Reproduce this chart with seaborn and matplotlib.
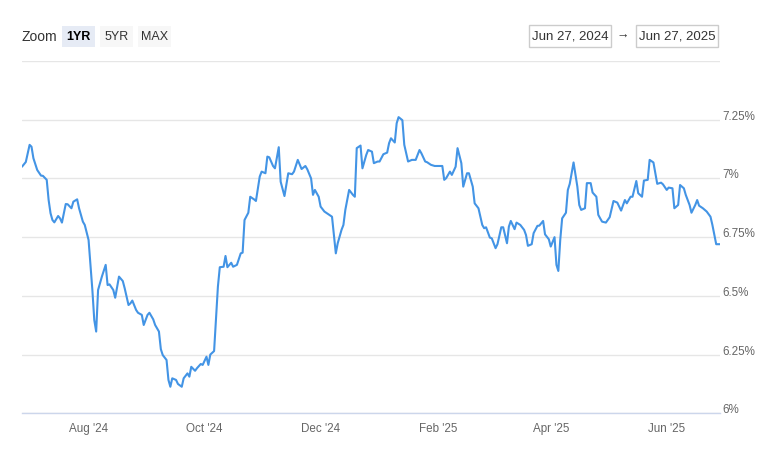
import pandas as pd
import matplotlib.pyplot as plt
import matplotlib.dates as mdates
import seaborn as sns
from matplotlib.patches import Rectangle

# %% data (daily rate, %)
dates = [
    "2024-06-27", "2024-06-29", "2024-07-01", "2024-07-02", "2024-07-03", "2024-07-05",
    "2024-07-07", "2024-07-08", "2024-07-10", "2024-07-11", "2024-07-12", "2024-07-13",
    "2024-07-14", "2024-07-16", "2024-07-17", "2024-07-18", "2024-07-20", "2024-07-21",
    "2024-07-23", "2024-07-24", "2024-07-26", "2024-07-27", "2024-07-29", "2024-07-30",
    "2024-08-01", "2024-08-02", "2024-08-03", "2024-08-04", "2024-08-05", "2024-08-06",
    "2024-08-08", "2024-08-10", "2024-08-11", "2024-08-12", "2024-08-14", "2024-08-15",
    "2024-08-17", "2024-08-19", "2024-08-20", "2024-08-21", "2024-08-22", "2024-08-23",
    "2024-08-24", "2024-08-26", "2024-08-27", "2024-08-29", "2024-08-30", "2024-09-01",
    "2024-09-02", "2024-09-04", "2024-09-05", "2024-09-07", "2024-09-08", "2024-09-09",
    "2024-09-11", "2024-09-12", "2024-09-13", "2024-09-14", "2024-09-16", "2024-09-17",
    "2024-09-19", "2024-09-20", "2024-09-22", "2024-09-23", "2024-09-24", "2024-09-26",
    "2024-09-27", "2024-09-29", "2024-09-30", "2024-10-02", "2024-10-03", "2024-10-04",
    "2024-10-06", "2024-10-07", "2024-10-08", "2024-10-09", "2024-10-11", "2024-10-12",
    "2024-10-13", "2024-10-15", "2024-10-16", "2024-10-18", "2024-10-20", "2024-10-21",
    "2024-10-22", "2024-10-24", "2024-10-25", "2024-10-27", "2024-10-28", "2024-10-30",
    "2024-10-31", "2024-11-02", "2024-11-03", "2024-11-04", "2024-11-06", "2024-11-07",
    "2024-11-09", "2024-11-10", "2024-11-12", "2024-11-14", "2024-11-16", "2024-11-17",
    "2024-11-19", "2024-11-21", "2024-11-23", "2024-11-24", "2024-11-26", "2024-11-27",
    "2024-11-28", "2024-11-30", "2024-12-01", "2024-12-03", "2024-12-05", "2024-12-07",
    "2024-12-09", "2024-12-10", "2024-12-12", "2024-12-13", "2024-12-14", "2024-12-16",
    "2024-12-18", "2024-12-19", "2024-12-20", "2024-12-22", "2024-12-23", "2024-12-25",
    "2024-12-26", "2024-12-28", "2024-12-29", "2024-12-31", "2025-01-01", "2025-01-03",
    "2025-01-05", "2025-01-06", "2025-01-07", "2025-01-09", "2025-01-10", "2025-01-11",
    "2025-01-13", "2025-01-14", "2025-01-16", "2025-01-18", "2025-01-20", "2025-01-22",
    "2025-01-23", "2025-01-25", "2025-01-26", "2025-01-28", "2025-01-30", "2025-02-03",
    "2025-02-04", "2025-02-05", "2025-02-07", "2025-02-08", "2025-02-10", "2025-02-11",
    "2025-02-13", "2025-02-14", "2025-02-16", "2025-02-17", "2025-02-19", "2025-02-20",
    "2025-02-22", "2025-02-24", "2025-02-25", "2025-02-26", "2025-02-28", "2025-03-01",
    "2025-03-03", "2025-03-04", "2025-03-06", "2025-03-07", "2025-03-09", "2025-03-10",
    "2025-03-11", "2025-03-13", "2025-03-14", "2025-03-16", "2025-03-18", "2025-03-19",
    "2025-03-20", "2025-03-22", "2025-03-23", "2025-03-25", "2025-03-26", "2025-03-28",
    "2025-03-29", "2025-03-31", "2025-04-01", "2025-04-03", "2025-04-04", "2025-04-05",
    "2025-04-06", "2025-04-07", "2025-04-09", "2025-04-10", "2025-04-11", "2025-04-13",
    "2025-04-15", "2025-04-16", "2025-04-17", "2025-04-19", "2025-04-20", "2025-04-22",
    "2025-04-23", "2025-04-25", "2025-04-26", "2025-04-27", "2025-04-28", "2025-04-30",
    "2025-05-02", "2025-05-04", "2025-05-06", "2025-05-08", "2025-05-10", "2025-05-11",
    "2025-05-13", "2025-05-14", "2025-05-16", "2025-05-17", "2025-05-19", "2025-05-20",
    "2025-05-22", "2025-05-23", "2025-05-25", "2025-05-26", "2025-05-27", "2025-05-29",
    "2025-05-30", "2025-06-01", "2025-06-02", "2025-06-04", "2025-06-05", "2025-06-07",
    "2025-06-08", "2025-06-10", "2025-06-11", "2025-06-13", "2025-06-14", "2025-06-16",
    "2025-06-17", "2025-06-18", "2025-06-20", "2025-06-22", "2025-06-24", "2025-06-25",
    "2025-06-27", "2025-06-29",
]
rates = [
    7.050, 7.070, 7.143, 7.135, 7.086, 7.036,
    7.012, 7.011, 6.994, 6.908, 6.852, 6.823,
    6.813, 6.840, 6.830, 6.812, 6.891, 6.890,
    6.873, 6.901, 6.911, 6.873, 6.816, 6.802,
    6.738, 6.632, 6.525, 6.397, 6.348, 6.525,
    6.582, 6.632, 6.546, 6.549, 6.525, 6.492,
    6.582, 6.563, 6.532, 6.497, 6.461, 6.468,
    6.480, 6.440, 6.428, 6.419, 6.376, 6.419,
    6.428, 6.400, 6.376, 6.348, 6.273, 6.248,
    6.227, 6.142, 6.113, 6.149, 6.142, 6.125,
    6.113, 6.149, 6.170, 6.156, 6.198, 6.181,
    6.192, 6.210, 6.206, 6.241, 6.206, 6.250,
    6.265, 6.400, 6.539, 6.622, 6.624, 6.670,
    6.622, 6.641, 6.624, 6.632, 6.681, 6.684,
    6.823, 6.854, 6.922, 6.911, 6.904, 7.008,
    7.029, 7.022, 7.093, 7.090, 7.053, 7.043,
    7.133, 6.986, 6.925, 7.022, 7.018, 7.029,
    7.079, 7.040, 7.053, 7.039, 7.000, 6.930,
    6.951, 6.922, 6.880, 6.859, 6.848, 6.837,
    6.681, 6.724, 6.781, 6.802, 6.866, 6.951,
    6.930, 6.922, 7.129, 7.140, 7.043, 7.100,
    7.121, 7.114, 7.065, 7.072, 7.072, 7.103,
    7.110, 7.150, 7.171, 7.153, 7.235, 7.261,
    7.248, 7.143, 7.072, 7.079, 7.079, 7.121,
    7.107, 7.072, 7.069, 7.058, 7.053, 7.053,
    6.994, 7.001, 7.029, 7.015, 7.050, 7.129,
    7.065, 6.965, 7.022, 7.022, 6.965, 6.894,
    6.873, 6.802, 6.788, 6.792, 6.748, 6.745,
    6.703, 6.720, 6.792, 6.792, 6.724, 6.795,
    6.819, 6.784, 6.812, 6.802, 6.781, 6.759,
    6.713, 6.720, 6.767, 6.798, 6.799, 6.819,
    6.762, 6.741, 6.710, 6.750, 6.632, 6.606,
    6.738, 6.830, 6.854, 6.951, 6.977, 7.068,
    6.965, 6.887, 6.866, 6.873, 6.980, 6.980,
    6.940, 6.922, 6.845, 6.830, 6.816, 6.812,
    6.835, 6.904, 6.897, 6.863, 6.908, 6.894,
    6.922, 6.922, 6.989, 6.937, 6.922, 6.991,
    6.994, 7.079, 7.068, 7.022, 6.977, 6.982,
    6.975, 6.951, 6.961, 6.958, 6.873, 6.887,
    6.972, 6.958, 6.930, 6.887, 6.854, 6.887,
    6.908, 6.884, 6.873, 6.859, 6.837, 6.802,
    6.720, 6.720,
]

y_ticks = [6, 6.25, 6.5, 6.75, 7, 7.25, 7.5]
y_labels = ["6%", "6.25%", "6.5%", "6.75%", "7%", "7.25%", ""]
zoom_buttons = ["1YR", "5YR", "MAX"]
range_from = "Jun 27, 2024"
range_to = "Jun 27, 2025"

df = pd.DataFrame({"date": pd.to_datetime(dates), "rate": rates})

# %% plot
sns.set_style("white")
plt.rcParams['font.family'] = ['Liberation Sans', 'DejaVu Sans']

W, H = 769, 449
fig = plt.figure(figsize=(W / 100, H / 100), dpi=100)
ax = fig.add_axes([22 / W, 1 - 413.3 / H, 698 / W, (413.3 - 61) / H])

sns.lineplot(data=df, x="date", y="rate", color="#4394e5", linewidth=1.5, ax=ax)

ax.set_xlim(df["date"].min(), df["date"].max())
ax.set_ylim(6, 7.5)
ax.set_xlabel("")
ax.set_ylabel("")

ax.set_yticks(y_ticks)
ax.set_yticklabels(y_labels)
ax.yaxis.tick_right()
ax.tick_params(axis="y", length=0, pad=2, labelsize=8.4, labelcolor="#666666")
for lab in ax.get_yticklabels():
    lab.set_verticalalignment("baseline")

ax.xaxis.set_major_locator(mdates.MonthLocator(bymonth=[2, 4, 6, 8, 10, 12]))
ax.xaxis.set_major_formatter(mdates.DateFormatter("%b '%y"))
ax.tick_params(axis="x", length=6, width=1, color="#ccd6eb", pad=1,
               labelsize=8.4, labelcolor="#666666")

ax.grid(axis="y", color="#e6e6e6", linewidth=1)
ax.set_axisbelow(True)
for side in ["top", "left", "right"]:
    ax.spines[side].set_visible(False)
ax.spines["bottom"].set_color("#ccd6eb")
ax.spines["bottom"].set_linewidth(1)

# %% range selector on top (pixel coords)
top = fig.add_axes([0, 0, 1, 1], zorder=-1)
top.set_xlim(0, W)
top.set_ylim(H, 0)
top.axis("off")

top.text(22, 37, "Zoom", fontsize=10, color="#333333", va="center", ha="left")
for i, name in enumerate(zoom_buttons):
    x0 = 62 + i * 38
    bg = "#e6ebf5" if i == 0 else "#f7f7f7"
    top.add_patch(Rectangle((x0, 26), 33, 21, facecolor=bg, edgecolor="none"))
    top.text(x0 + 16.5, 37, name, fontsize=9, color="#000000" if i == 0 else "#333333",
             fontweight="bold" if i == 0 else "normal", ha="center", va="center")

for x0, label in [(529, range_from), (636, range_to)]:
    top.add_patch(Rectangle((x0, 25), 82, 22, facecolor="white", edgecolor="#cccccc", linewidth=1))
    top.text(x0 + 41, 36.5, label, fontsize=9.5, color="#333333", ha="center", va="center")
top.text(623, 36, "\u2192", fontsize=9, color="#333333", ha="center", va="center")

fig.savefig("out.png", dpi=100)
